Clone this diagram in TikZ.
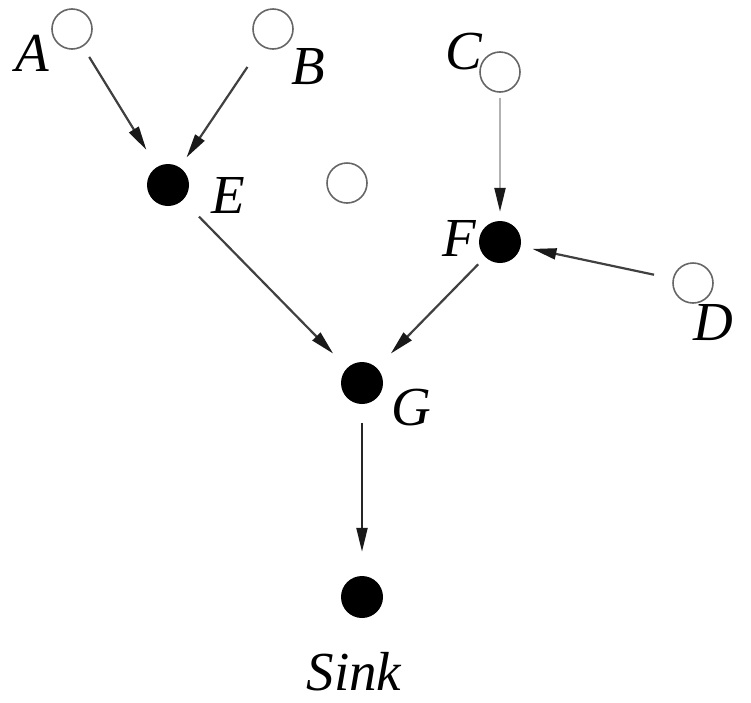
\documentclass[tikz,border=0pt]{standalone}
\usepackage{fontspec}
\setmainfont{Liberation Serif}
\usetikzlibrary{arrows.meta}
\begin{document}
\begin{tikzpicture}[x=1pt,y=-1pt,
  opennode/.style={circle,draw=black!60,line width=1.6pt,minimum size=40pt,inner sep=0pt},
  fullnode/.style={circle,fill=black,minimum size=42pt,inner sep=0pt},
  lbl/.style={inner sep=0pt,font=\fontsize{55}{60}\selectfont\itshape},
  edge/.style={draw=black!75,line width=2.2pt,-{Triangle[length=24pt,width=11pt,color=black!90]}}]
\useasboundingbox (0,0) rectangle (751,702);
\node[opennode] (A) at (72,29) {};
\node[opennode] (B) at (273,29) {};
\node[opennode] (C) at (500,72) {};
\node[opennode] (D) at (693,283) {};
\node[opennode] (M) at (347,183) {};
\node[fullnode] (E) at (168,185) {};
\node[fullnode] (F) at (500,242) {};
\node[fullnode] (G) at (362,383) {};
\node[fullnode] (S) at (362,597) {};
\node[lbl] (lA) at (32,53) {A};
\node[lbl] (lB) at (308,67) {B};
\node[lbl] (lC) at (464,52) {C};
\node[lbl] (lD) at (713,323) {D};
\node[lbl] (lE) at (228,195) {E};
\node[lbl] (lF) at (459,238) {F};
\node[lbl] (lG) at (411,408) {G};
\node[lbl] (lS) at (354,672) {Sink};
\draw[edge,shorten <=12pt,shorten >=20pt] (A) -- (E);
\draw[edge,shorten <=25pt,shorten >=12pt] (B) -- (E);
\draw[edge,draw=black!30,shorten <=5pt,shorten >=9pt] (C) -- (F);
\draw[edge,shorten <=19pt,shorten >=12pt] (D) -- (F);
\draw[edge,shorten <=23pt,shorten >=20pt] (E) -- (G);
\draw[edge,shorten <=10pt,shorten >=20pt] (F) -- (G);
\draw[edge,draw=black!85,shorten <=19pt,shorten >=24pt] (G) -- (S);
\end{tikzpicture}
\end{document}
